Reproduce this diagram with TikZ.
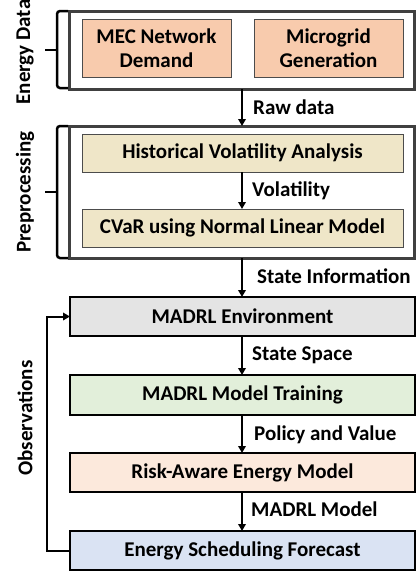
\documentclass[tikz,border=0pt]{standalone}
\usepackage{fontspec}
\setmainfont{Carlito}
\usetikzlibrary{arrows.meta}
\definecolor{orangebox}{HTML}{F8CBAD}
\definecolor{beigebox}{HTML}{EFE6C8}
\definecolor{graybox}{HTML}{E4E4E4}
\definecolor{greenbox}{HTML}{E2EFDA}
\definecolor{peachbox}{HTML}{FCE9DC}
\definecolor{bluebox}{HTML}{DAE3F3}
\definecolor{framegray}{HTML}{404040}
\begin{document}
\begin{tikzpicture}[x=1pt,y=-1pt,
  txt/.style={font=\fontsize{21}{24}\selectfont\bfseries},
  outerbox/.style={draw=framegray,line width=3pt,rectangle,outer sep=0pt},
  innerbox/.style={txt,draw=black!70,line width=1pt,rectangle,outer sep=0pt,align=center,inner sep=0pt},
  mainbox/.style={txt,draw=black,line width=2.4pt,rectangle,outer sep=0pt,minimum width=345pt,minimum height=39pt,inner sep=0pt},
  flow/.style={-{Triangle[length=7pt,width=7.5pt]},line width=2pt},
  lbl/.style={txt,anchor=west,inner sep=0pt},
  brace/.style={line width=2.5pt,rounded corners=3pt},
  side/.style={txt,rotate=90,inner sep=0pt}]
\useasboundingbox (0,0) rectangle (416,574);
% Energy data
\node[outerbox,minimum width=345pt,minimum height=78pt] (energy) at (242,50) {};
\node[innerbox,fill=orangebox,minimum width=149pt,minimum height=58pt] (mec) at (156.5,48) {MEC Network\\Demand};
\node[innerbox,fill=orangebox,minimum width=149pt,minimum height=58pt] (micro) at (328.5,48) {Microgrid\\Generation};
% Preprocessing
\node[outerbox,minimum width=345pt,minimum height=132pt] (pre) at (242,192) {};
\node[innerbox,fill=beigebox,minimum width=321pt,minimum height=38pt] (hist) at (242.5,153) {Historical Volatility Analysis};
\node[innerbox,fill=beigebox,minimum width=321pt,minimum height=38pt] (cvar) at (242.5,228) {CVaR using Normal Linear Model};
% Main chain
\node[mainbox,fill=graybox] (env) at (242.5,316.5) {MADRL Environment};
\node[mainbox,fill=greenbox,minimum height=40pt] (train) at (242.5,395) {MADRL Model Training};
\node[mainbox,fill=peachbox] (risk) at (242.5,472.5) {Risk-Aware Energy Model};
\node[mainbox,fill=bluebox] (sched) at (242.5,550.5) {Energy Scheduling Forecast};
% arrows
\draw[flow] (energy.south -| 242,0) -- (pre.north -| 242,0);
\node[lbl] (l1) at (253,107) {Raw data};
\draw[flow] (hist.south -| 242,0) -- (cvar.north -| 242,0);
\node[lbl] (l2) at (252,191) {Volatility};
\draw[flow] (pre.south -| 242,0) -- (env.north -| 242,0);
\node[lbl] (l3) at (257,276) {State Information};
\draw[flow] (env.south -| 242,0) -- (train.north -| 242,0);
\node[lbl] (l4) at (252,355) {State Space};
\draw[flow] (train.south -| 242,0) -- (risk.north -| 242,0);
\node[lbl] (l5) at (254,435) {Policy and Value};
\draw[flow] (risk.south -| 242,0) -- (sched.north -| 242,0);
\node[lbl] (l6) at (251,509) {MADRL Model};
% observations loop
\coordinate (lp) at (47,0);
\draw[flow] (sched.west) -- (sched.west -| lp) -- (env.west -| lp) -- (env.west);
\node[side] (obs) at (25,418) {Observations};
% braces
\draw[brace] (68,11) -- (57,11) -- (57,88) -- (68,88);
\draw[line width=2.5pt] (57,50) -- (45,50);
\node[side] (sd1) at (25,52) {Energy Data};
\draw[brace] (68,126) -- (57,126) -- (57,258) -- (68,258);
\draw[line width=2.5pt] (57,192) -- (45,192);
\node[side] (sd2) at (25,192) {Preprocessing};
\end{tikzpicture}
\end{document}
